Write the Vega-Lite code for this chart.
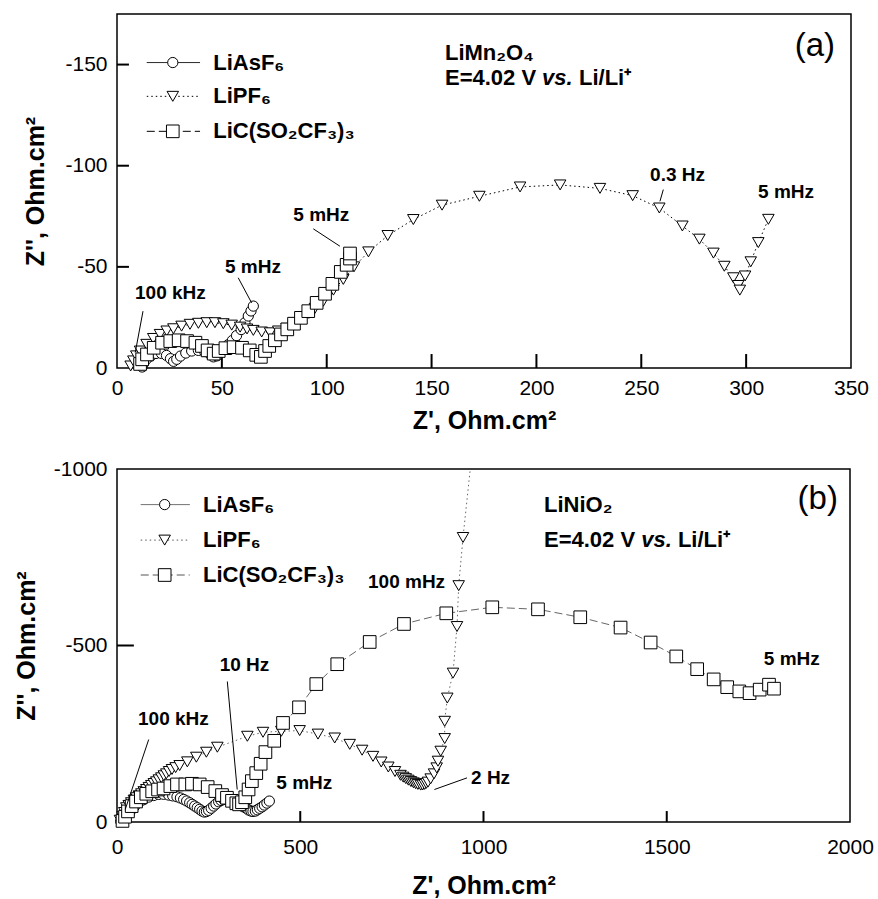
{
  "$schema": "https://vega.github.io/schema/vega-lite/v6.json",
  "background": "white",
  "padding": {"left": 13, "top": 13, "right": 20, "bottom": 2},
  "config": {
    "font": "Liberation Sans",
    "view": {"stroke": "black", "strokeWidth": 1.5},
    "axis": {"domain": false, "grid": false, "ticks": true, "tickSize": 12, "offset": -12, "tickWidth": 1.5, "tickColor": "black", "tickOpacity": 0,
      "labelFont": "Liberation Sans", "labelFontSize": 21, "labelColor": "black", "labelFlush": false, "labelOverlap": false,
      "titleFont": "Liberation Sans", "titleFontSize": 25, "titleFontWeight": "bold", "titleColor": "black"},
    "axisX": {"labelPadding": 9, "titlePadding": 10},
    "axisY": {"labelPadding": 10, "titlePadding": 16}
  },
  "datasets": {
    "a": [
      {"s":"LiAsF6","zr":12,"zi":-0.5},{"s":"LiAsF6","zr":12.8,"zi":-2.5},{"s":"LiAsF6","zr":14.2,"zi":-4.5},{"s":"LiAsF6","zr":16.2,"zi":-6},{"s":"LiAsF6","zr":18.6,"zi":-7.2},{"s":"LiAsF6","zr":21.2,"zi":-7.2},{"s":"LiAsF6","zr":23.6,"zi":-6.2},{"s":"LiAsF6","zr":25.5,"zi":-4.6},{"s":"LiAsF6","zr":27,"zi":-3.3},{"s":"LiAsF6","zr":28.5,"zi":-4.3},{"s":"LiAsF6","zr":30.3,"zi":-5.9},{"s":"LiAsF6","zr":32.8,"zi":-7.4},{"s":"LiAsF6","zr":35.6,"zi":-8.4},{"s":"LiAsF6","zr":38.8,"zi":-8.7},{"s":"LiAsF6","zr":41.8,"zi":-8.2},{"s":"LiAsF6","zr":44.2,"zi":-7},{"s":"LiAsF6","zr":46,"zi":-5.5},{"s":"LiAsF6","zr":47.6,"zi":-6},{"s":"LiAsF6","zr":49.2,"zi":-7.8},{"s":"LiAsF6","zr":51,"zi":-9.6},{"s":"LiAsF6","zr":53,"zi":-11.5},{"s":"LiAsF6","zr":55,"zi":-13.6},{"s":"LiAsF6","zr":57,"zi":-16},{"s":"LiAsF6","zr":59.2,"zi":-19},{"s":"LiAsF6","zr":61,"zi":-22.4},{"s":"LiAsF6","zr":62.6,"zi":-25.7},{"s":"LiAsF6","zr":63.9,"zi":-28.2},{"s":"LiAsF6","zr":65,"zi":-30.6},
      {"s":"LiPF6","zr":6.5,"zi":-1},{"s":"LiPF6","zr":7.8,"zi":-3.5},{"s":"LiPF6","zr":9.2,"zi":-6},{"s":"LiPF6","zr":11,"zi":-8.4},{"s":"LiPF6","zr":14.1,"zi":-11.7},{"s":"LiPF6","zr":17.3,"zi":-14.6},{"s":"LiPF6","zr":20.5,"zi":-16.6},{"s":"LiPF6","zr":23.7,"zi":-18.3},{"s":"LiPF6","zr":26.9,"zi":-19.4},{"s":"LiPF6","zr":30.8,"zi":-20.7},{"s":"LiPF6","zr":34.8,"zi":-21.6},{"s":"LiPF6","zr":38.8,"zi":-22.1},{"s":"LiPF6","zr":42.8,"zi":-22.4},{"s":"LiPF6","zr":46.7,"zi":-22.4},{"s":"LiPF6","zr":50.7,"zi":-21.9},{"s":"LiPF6","zr":54.7,"zi":-21.2},{"s":"LiPF6","zr":58.7,"zi":-20.2},{"s":"LiPF6","zr":62,"zi":-19.3},{"s":"LiPF6","zr":65,"zi":-18.6},{"s":"LiPF6","zr":69,"zi":-17.8},{"s":"LiPF6","zr":73,"zi":-17.4},{"s":"LiPF6","zr":76.9,"zi":-18.3},{"s":"LiPF6","zr":80.9,"zi":-19.6},{"s":"LiPF6","zr":84.9,"zi":-21.9},{"s":"LiPF6","zr":88.1,"zi":-24.8},{"s":"LiPF6","zr":91.5,"zi":-27},{"s":"LiPF6","zr":94.4,"zi":-29.5},{"s":"LiPF6","zr":98.4,"zi":-33},{"s":"LiPF6","zr":103.2,"zi":-38.5},{"s":"LiPF6","zr":107.9,"zi":-43.8},{"s":"LiPF6","zr":113,"zi":-50},{"s":"LiPF6","zr":119.9,"zi":-57.4},{"s":"LiPF6","zr":129.1,"zi":-65.5},{"s":"LiPF6","zr":141.3,"zi":-73.4},{"s":"LiPF6","zr":155,"zi":-80.5},{"s":"LiPF6","zr":172.8,"zi":-84.9},{"s":"LiPF6","zr":192.2,"zi":-89.5},{"s":"LiPF6","zr":211.3,"zi":-90.5},{"s":"LiPF6","zr":230.3,"zi":-88.8},{"s":"LiPF6","zr":245.9,"zi":-85.2},{"s":"LiPF6","zr":258.6,"zi":-79.1},{"s":"LiPF6","zr":269.6,"zi":-70.2},{"s":"LiPF6","zr":277.7,"zi":-63.7},{"s":"LiPF6","zr":284.4,"zi":-56.8},{"s":"LiPF6","zr":289.6,"zi":-50.3},{"s":"LiPF6","zr":293.9,"zi":-44.6},{"s":"LiPF6","zr":296.2,"zi":-40.8},{"s":"LiPF6","zr":297,"zi":-38.5},{"s":"LiPF6","zr":299.5,"zi":-45.5},{"s":"LiPF6","zr":302.2,"zi":-52.5},{"s":"LiPF6","zr":305.8,"zi":-62},{"s":"LiPF6","zr":310.6,"zi":-73.5},
      {"s":"LiC","zr":11,"zi":-2},{"s":"LiC","zr":12,"zi":-4.3},{"s":"LiC","zr":14.3,"zi":-6.7},{"s":"LiC","zr":17.5,"zi":-10},{"s":"LiC","zr":21.5,"zi":-12.5},{"s":"LiC","zr":25.4,"zi":-13.3},{"s":"LiC","zr":29.4,"zi":-13.7},{"s":"LiC","zr":33.4,"zi":-13.3},{"s":"LiC","zr":37.4,"zi":-12.5},{"s":"LiC","zr":40.5,"zi":-10.9},{"s":"LiC","zr":43.2,"zi":-8.7},{"s":"LiC","zr":46.1,"zi":-7.1},{"s":"LiC","zr":48.5,"zi":-8.4},{"s":"LiC","zr":51.7,"zi":-9.8},{"s":"LiC","zr":55.6,"zi":-10.3},{"s":"LiC","zr":59.6,"zi":-10},{"s":"LiC","zr":63.3,"zi":-8.7},{"s":"LiC","zr":66.4,"zi":-6.5},{"s":"LiC","zr":68.6,"zi":-5.5},{"s":"LiC","zr":70.6,"zi":-8.4},{"s":"LiC","zr":72.6,"zi":-10.9},{"s":"LiC","zr":75.3,"zi":-13.7},{"s":"LiC","zr":78.2,"zi":-16.6},{"s":"LiC","zr":81.2,"zi":-19.1},{"s":"LiC","zr":84.4,"zi":-21.9},{"s":"LiC","zr":87.7,"zi":-24.8},{"s":"LiC","zr":91.2,"zi":-28.1},{"s":"LiC","zr":95.2,"zi":-32.2},{"s":"LiC","zr":99.2,"zi":-36.7},{"s":"LiC","zr":102.7,"zi":-41.6},{"s":"LiC","zr":106.7,"zi":-47.5},{"s":"LiC","zr":109.5,"zi":-51},{"s":"LiC","zr":111.1,"zi":-54.1},{"s":"LiC","zr":111.1,"zi":-56.6}
    ],
    "b": [
      {"s":"LiAsF6","zr":10,"zi":-2},{"s":"LiAsF6","zr":13.6,"zi":-7.5},{"s":"LiAsF6","zr":20,"zi":-15},{"s":"LiAsF6","zr":28,"zi":-23},{"s":"LiAsF6","zr":36.4,"zi":-31},{"s":"LiAsF6","zr":47,"zi":-43},{"s":"LiAsF6","zr":59.1,"zi":-54.6},{"s":"LiAsF6","zr":72,"zi":-63},{"s":"LiAsF6","zr":86.4,"zi":-70.6},{"s":"LiAsF6","zr":100,"zi":-75},{"s":"LiAsF6","zr":113.7,"zi":-78.2},{"s":"LiAsF6","zr":127,"zi":-78.5},{"s":"LiAsF6","zr":141,"zi":-76.3},{"s":"LiAsF6","zr":152,"zi":-74},{"s":"LiAsF6","zr":163.7,"zi":-71.5},{"s":"LiAsF6","zr":173,"zi":-68},{"s":"LiAsF6","zr":181.9,"zi":-64},{"s":"LiAsF6","zr":190,"zi":-59.5},{"s":"LiAsF6","zr":198.3,"zi":-54.6},{"s":"LiAsF6","zr":205,"zi":-50},{"s":"LiAsF6","zr":212,"zi":-45.2},{"s":"LiAsF6","zr":219,"zi":-40.5},{"s":"LiAsF6","zr":225.6,"zi":-35.9},{"s":"LiAsF6","zr":232,"zi":-31},{"s":"LiAsF6","zr":238.3,"zi":-28.2},{"s":"LiAsF6","zr":244,"zi":-29.5},{"s":"LiAsF6","zr":250.1,"zi":-33},{"s":"LiAsF6","zr":257,"zi":-39},{"s":"LiAsF6","zr":263.8,"zi":-45.2},{"s":"LiAsF6","zr":270,"zi":-51},{"s":"LiAsF6","zr":277.4,"zi":-57.3},{"s":"LiAsF6","zr":284,"zi":-61},{"s":"LiAsF6","zr":291.1,"zi":-64},{"s":"LiAsF6","zr":299,"zi":-65},{"s":"LiAsF6","zr":307.5,"zi":-64},{"s":"LiAsF6","zr":315,"zi":-60.5},{"s":"LiAsF6","zr":322.8,"zi":-56.5},{"s":"LiAsF6","zr":330,"zi":-52},{"s":"LiAsF6","zr":338.3,"zi":-48},{"s":"LiAsF6","zr":345,"zi":-43},{"s":"LiAsF6","zr":352.8,"zi":-38.7},{"s":"LiAsF6","zr":359,"zi":-34},{"s":"LiAsF6","zr":365.6,"zi":-31},{"s":"LiAsF6","zr":371,"zi":-30},{"s":"LiAsF6","zr":377.4,"zi":-31},{"s":"LiAsF6","zr":383,"zi":-34.5},{"s":"LiAsF6","zr":389.3,"zi":-38.7},{"s":"LiAsF6","zr":396,"zi":-43},{"s":"LiAsF6","zr":402,"zi":-48},{"s":"LiAsF6","zr":409,"zi":-53.5},{"s":"LiAsF6","zr":415.6,"zi":-59.3},
      {"s":"LiPF6","zr":8,"zi":-5},{"s":"LiPF6","zr":15,"zi":-15},{"s":"LiPF6","zr":20,"zi":-27},{"s":"LiPF6","zr":25.5,"zi":-40.5},{"s":"LiPF6","zr":32,"zi":-47},{"s":"LiPF6","zr":39,"zi":-54.6},{"s":"LiPF6","zr":46,"zi":-62},{"s":"LiPF6","zr":52.7,"zi":-68.7},{"s":"LiPF6","zr":59.5,"zi":-74},{"s":"LiPF6","zr":66.4,"zi":-80},{"s":"LiPF6","zr":73,"zi":-86},{"s":"LiPF6","zr":80,"zi":-92.2},{"s":"LiPF6","zr":87,"zi":-98},{"s":"LiPF6","zr":93.7,"zi":-103.6},{"s":"LiPF6","zr":100.5,"zi":-109},{"s":"LiPF6","zr":107.3,"zi":-113.9},{"s":"LiPF6","zr":114,"zi":-119.5},{"s":"LiPF6","zr":121,"zi":-125.2},{"s":"LiPF6","zr":127.8,"zi":-131},{"s":"LiPF6","zr":134.6,"zi":-136.5},{"s":"LiPF6","zr":142,"zi":-143},{"s":"LiPF6","zr":150,"zi":-148.8},{"s":"LiPF6","zr":160,"zi":-154},{"s":"LiPF6","zr":171,"zi":-160},{"s":"LiPF6","zr":191.9,"zi":-170.4},{"s":"LiPF6","zr":216.5,"zi":-183.6},{"s":"LiPF6","zr":243.8,"zi":-197.7},{"s":"LiPF6","zr":273.8,"zi":-211.9},{"s":"LiPF6","zr":355.7,"zi":-242.9},{"s":"LiPF6","zr":398.4,"zi":-254.2},{"s":"LiPF6","zr":448.4,"zi":-257},{"s":"LiPF6","zr":498.4,"zi":-259},{"s":"LiPF6","zr":548.4,"zi":-249},{"s":"LiPF6","zr":594,"zi":-238},{"s":"LiPF6","zr":635,"zi":-220},{"s":"LiPF6","zr":668.8,"zi":-203.4},{"s":"LiPF6","zr":698.5,"zi":-186},{"s":"LiPF6","zr":721,"zi":-170},{"s":"LiPF6","zr":740.3,"zi":-155.8},{"s":"LiPF6","zr":758.5,"zi":-143},{"s":"LiPF6","zr":773.5,"zi":-132.3},{"s":"LiPF6","zr":781,"zi":-127},{"s":"LiPF6","zr":788,"zi":-122.8},{"s":"LiPF6","zr":795,"zi":-118.5},{"s":"LiPF6","zr":802,"zi":-114.5},{"s":"LiPF6","zr":809,"zi":-111},{"s":"LiPF6","zr":815,"zi":-108.5},{"s":"LiPF6","zr":821,"zi":-106.5},{"s":"LiPF6","zr":828.6,"zi":-104.5},{"s":"LiPF6","zr":834,"zi":-104.8},{"s":"LiPF6","zr":839.5,"zi":-106.5},{"s":"LiPF6","zr":844,"zi":-109.5},{"s":"LiPF6","zr":848.6,"zi":-113},{"s":"LiPF6","zr":855.9,"zi":-122.3},{"s":"LiPF6","zr":865,"zi":-136.4},{"s":"LiPF6","zr":872.3,"zi":-153.4},{"s":"LiPF6","zr":875.8,"zi":-172.3},{"s":"LiPF6","zr":883.2,"zi":-200.6},{"s":"LiPF6","zr":894.1,"zi":-236.4},{"s":"LiPF6","zr":894.1,"zi":-285.3},{"s":"LiPF6","zr":901.2,"zi":-351.1},{"s":"LiPF6","zr":916.8,"zi":-421.7},{"s":"LiPF6","zr":927.7,"zi":-553.7},{"s":"LiPF6","zr":932.3,"zi":-669.5},{"s":"LiPF6","zr":944.1,"zi":-806},{"s":"LiPF6","zr":970,"zi":-1060},
      {"s":"LiC","zr":15,"zi":-3},{"s":"LiC","zr":22,"zi":-15},{"s":"LiC","zr":30,"zi":-30},{"s":"LiC","zr":40,"zi":-45},{"s":"LiC","zr":52,"zi":-58},{"s":"LiC","zr":65,"zi":-70},{"s":"LiC","zr":80,"zi":-80},{"s":"LiC","zr":96,"zi":-87},{"s":"LiC","zr":112,"zi":-92},{"s":"LiC","zr":127,"zi":-95},{"s":"LiC","zr":145.6,"zi":-101.7},{"s":"LiC","zr":163.7,"zi":-106.4},{"s":"LiC","zr":186.4,"zi":-106.4},{"s":"LiC","zr":204.6,"zi":-108.3},{"s":"LiC","zr":225.6,"zi":-106.4},{"s":"LiC","zr":247.4,"zi":-98.9},{"s":"LiC","zr":268.3,"zi":-87.6},{"s":"LiC","zr":286.5,"zi":-76.3},{"s":"LiC","zr":300,"zi":-68.7},{"s":"LiC","zr":313.8,"zi":-60},{"s":"LiC","zr":325.6,"zi":-53},{"s":"LiC","zr":333,"zi":-50},{"s":"LiC","zr":341,"zi":-56},{"s":"LiC","zr":350,"zi":-70},{"s":"LiC","zr":359,"zi":-92.2},{"s":"LiC","zr":368,"zi":-115.8},{"s":"LiC","zr":380,"zi":-138.5},{"s":"LiC","zr":392,"zi":-165},{"s":"LiC","zr":405,"zi":-198},{"s":"LiC","zr":429,"zi":-230},{"s":"LiC","zr":453,"zi":-280.6},{"s":"LiC","zr":496.6,"zi":-324.9},{"s":"LiC","zr":543.8,"zi":-390.7},{"s":"LiC","zr":601,"zi":-447},{"s":"LiC","zr":689.5,"zi":-510},{"s":"LiC","zr":783,"zi":-561},{"s":"LiC","zr":898.5,"zi":-591.2},{"s":"LiC","zr":1024,"zi":-608.2},{"s":"LiC","zr":1148.7,"zi":-602.5},{"s":"LiC","zr":1264,"zi":-580},{"s":"LiC","zr":1374,"zi":-550.8},{"s":"LiC","zr":1456,"zi":-508.5},{"s":"LiC","zr":1526,"zi":-469},{"s":"LiC","zr":1583,"zi":-433},{"s":"LiC","zr":1628,"zi":-404},{"s":"LiC","zr":1665,"zi":-382},{"s":"LiC","zr":1698,"zi":-370},{"s":"LiC","zr":1726,"zi":-365},{"s":"LiC","zr":1753.6,"zi":-375},{"s":"LiC","zr":1779,"zi":-389},{"s":"LiC","zr":1792.6,"zi":-377.7}
    ],
    "tkA": [
      {"zr":50,"zi":0,"zr2":50,"zi2":-6.9},{"zr":100,"zi":0,"zr2":100,"zi2":-6.9},{"zr":150,"zi":0,"zr2":150,"zi2":-6.9},{"zr":200,"zi":0,"zr2":200,"zi2":-6.9},{"zr":250,"zi":0,"zr2":250,"zi2":-6.9},{"zr":300,"zi":0,"zr2":300,"zi2":-6.9},
      {"zr":0,"zi":-50,"zr2":5.7,"zi2":-50},{"zr":0,"zi":-100,"zr2":5.7,"zi2":-100},{"zr":0,"zi":-150,"zr2":5.7,"zi2":-150}
    ],
    "tkB": [
      {"zr":500,"zi":0,"zr2":500,"zi2":-31},{"zr":1000,"zi":0,"zr2":1000,"zi2":-31},{"zr":1500,"zi":0,"zr2":1500,"zi2":-31},
      {"zr":0,"zi":-500,"zr2":46,"zi2":-500}
    ],
    "legA": [
      {"s":"LiAsF6","zr":14.2,"zr2":39.6,"zs":26.6,"zt":45.9,"zi":-151,"t":"LiAsF₆"},
      {"s":"LiPF6","zr":14.2,"zr2":39.6,"zs":26.6,"zt":45.9,"zi":-134.3,"t":"LiPF₆"},
      {"s":"LiC","zr":14.2,"zr2":39.6,"zs":26.6,"zt":45.9,"zi":-117,"t":"LiC(SO₂CF₃)₃"}
    ],
    "legB": [
      {"s":"LiAsF6","zr":64.7,"zr2":198.4,"zs":130.1,"zt":234.7,"zi":-899.2,"t":"LiAsF₆"},
      {"s":"LiPF6","zr":64.7,"zr2":198.4,"zs":130.1,"zt":234.7,"zi":-798.6,"t":"LiPF₆"},
      {"s":"LiC","zr":64.7,"zr2":198.4,"zs":130.1,"zt":234.7,"zi":-699.7,"t":"LiC(SO₂CF₃)₃"}
    ],
    "ldA": [
      {"zr":12.4,"zi":-28.1,"zr2":8.7,"zi2":-7.6},
      {"zr":57.8,"zi":-44.6,"zr2":64.2,"zi2":-32.2},
      {"zr":93.6,"zi":-68.8,"zr2":106.3,"zi2":-60.2},
      {"zr":260.5,"zi":-88.2,"zr2":258.9,"zi2":-82.4}
    ],
    "ldB": [
      {"zr":86.5,"zi":-233.6,"zr2":22.6,"zi2":-35.9},
      {"zr":301,"zi":-398,"zr2":328,"zi2":-92},
      {"zr":866,"zi":-92,"zr2":955,"zi2":-125}
    ],
    "anA": [
      {"zr":8.6,"zi":-33.9,"t":"100 kHz"},
      {"zr":51.5,"zi":-47,"t":"5 mHz"},
      {"zr":84.1,"zi":-72.6,"t":"5 mHz"},
      {"zr":254.2,"zi":-92.3,"t":"0.3 Hz"},
      {"zr":305.7,"zi":-84.1,"t":"5 mHz"}
    ],
    "anB": [
      {"zr":57.3,"zi":-276,"t":"100 kHz"},
      {"zr":280.2,"zi":-426.6,"t":"10 Hz"},
      {"zr":434.7,"zi":-92.4,"t":"5 mHz"},
      {"zr":684.9,"zi":-661.9,"t":"100 mHz"},
      {"zr":966,"zi":-106.5,"t":"2 Hz"},
      {"zr":1765,"zi":-445.5,"t":"5 mHz"}
    ],
    "hdA": [
      {"zr":156.4,"zi":-152.5,"t":"LiMn₂O₄"},
      {"zr":156.4,"zi":-140,"t":"E=4.02 V"},
      {"zr":220.3,"zi":-140,"t":"Li/Li⁺"}
    ],
    "hdB": [
      {"zr":1165,"zi":-878.5,"t":"LiNiO₂"},
      {"zr":1165,"zi":-779.7,"t":"E=4.02 V"},
      {"zr":1530.4,"zi":-779.7,"t":"Li/Li⁺"}
    ],
    "itA": [{"zr":202.7,"zi":-140,"t":"vs."}],
    "itB": [{"zr":1430.3,"zi":-779.7,"t":"vs."}],
    "pA": [{"zr":342.4,"zi":-154,"t":"(a)"}],
    "pB": [{"zr":1967,"zi":-887,"t":"(b)"}]
  },
  "spacing": 101,
  "bounds": "flush",
  "vconcat": [
    {
      "width": 734, "height": 354,
      "layer": [
        {"data": {"name": "a"}, "mark": {"type": "line", "color": "black", "strokeWidth": 1},
         "encoding": {
           "x": {"field": "zr", "type": "quantitative", "scale": {"domain": [0, 350], "nice": false, "zero": false},
                 "axis": {"title": "Z', Ohm.cm²", "values": [0, 50, 100, 150, 200, 250, 300, 350], "labelExpr": "'' + datum.value"}},
           "y": {"field": "zi", "type": "quantitative", "scale": {"domain": [0, -175], "nice": false, "zero": false},
                 "axis": {"title": "Z'', Ohm.cm²", "values": [0, -50, -100, -150], "labelExpr": "datum.value < 0 ? '-' + (-datum.value) : '0'"}},
           "detail": {"field": "s"},
           "strokeDash": {"field": "s", "type": "nominal", "scale": {"domain": ["LiAsF6", "LiPF6", "LiC"], "range": [[1, 0], [1.5, 3], [8, 4]]}, "legend": null},
           "order": {"value": null}
         }},
        {"data": {"name": "tkA"}, "mark": {"type": "rule", "color": "black", "strokeWidth": 2},
         "encoding": {"x": {"field": "zr", "type": "quantitative"}, "y": {"field": "zi", "type": "quantitative"}, "x2": {"field": "zr2"}, "y2": {"field": "zi2"}}},
        {"data": {"name": "a"}, "mark": {"type": "point", "filled": true, "fill": "white", "stroke": "black", "strokeWidth": 1, "opacity": 1},
         "encoding": {
           "x": {"field": "zr", "type": "quantitative", "scale": {"domain": [0, 350], "nice": false, "zero": false}},
           "y": {"field": "zi", "type": "quantitative", "scale": {"domain": [0, -175], "nice": false, "zero": false}},
           "shape": {"field": "s", "type": "nominal", "scale": {"domain": ["LiAsF6", "LiPF6", "LiC"], "range": ["circle", "triangle-down", "square"]}, "legend": null},
           "size": {"field": "s", "type": "nominal", "scale": {"domain": ["LiAsF6", "LiPF6", "LiC"], "range": [105, 160, 75]}, "legend": null}
         }},
        {"data": {"name": "legA"}, "mark": {"type": "rule", "color": "black", "strokeWidth": 1},
         "encoding": {
           "x": {"field": "zr", "type": "quantitative"}, "x2": {"field": "zr2"},
           "y": {"field": "zi", "type": "quantitative"},
           "strokeDash": {"field": "s", "type": "nominal", "scale": {"domain": ["LiAsF6", "LiPF6", "LiC"], "range": [[1, 0], [1.5, 3], [8, 4]]}, "legend": null}
         }},
        {"data": {"name": "legA"}, "mark": {"type": "point", "filled": true, "fill": "white", "stroke": "black", "strokeWidth": 1, "opacity": 1},
         "encoding": {
           "x": {"field": "zs", "type": "quantitative"},
           "y": {"field": "zi", "type": "quantitative"},
           "shape": {"field": "s", "type": "nominal", "scale": {"domain": ["LiAsF6", "LiPF6", "LiC"], "range": ["circle", "triangle-down", "square"]}, "legend": null},
           "size": {"field": "s", "type": "nominal", "scale": {"domain": ["LiAsF6", "LiPF6", "LiC"], "range": [105, 160, 75]}, "legend": null}
         }},
        {"data": {"name": "legA"}, "mark": {"type": "text", "align": "left", "baseline": "middle", "font": "Liberation Sans", "fontSize": 22, "fontWeight": "bold", "color": "black"},
         "encoding": {"x": {"field": "zt", "type": "quantitative"}, "y": {"field": "zi", "type": "quantitative"}, "text": {"field": "t"}}},
        {"data": {"name": "ldA"}, "mark": {"type": "rule", "color": "black", "strokeWidth": 1},
         "encoding": {"x": {"field": "zr", "type": "quantitative"}, "y": {"field": "zi", "type": "quantitative"}, "x2": {"field": "zr2"}, "y2": {"field": "zi2"}}},
        {"data": {"name": "anA"}, "mark": {"type": "text", "align": "left", "baseline": "alphabetic", "font": "Liberation Sans", "fontSize": 19, "fontWeight": "bold", "color": "black"},
         "encoding": {"x": {"field": "zr", "type": "quantitative"}, "y": {"field": "zi", "type": "quantitative"}, "text": {"field": "t"}}},
        {"data": {"name": "hdA"}, "mark": {"type": "text", "align": "left", "baseline": "alphabetic", "font": "Liberation Sans", "fontSize": 22, "fontWeight": "bold", "color": "black"},
         "encoding": {"x": {"field": "zr", "type": "quantitative"}, "y": {"field": "zi", "type": "quantitative"}, "text": {"field": "t"}}},
        {"data": {"name": "itA"}, "mark": {"type": "text", "align": "left", "baseline": "alphabetic", "font": "Liberation Sans", "fontSize": 22, "fontWeight": "bold", "fontStyle": "italic", "color": "black"},
         "encoding": {"x": {"field": "zr", "type": "quantitative"}, "y": {"field": "zi", "type": "quantitative"}, "text": {"field": "t"}}},
        {"data": {"name": "pA"}, "mark": {"type": "text", "align": "right", "baseline": "alphabetic", "font": "Liberation Sans", "fontSize": 33, "color": "black"},
         "encoding": {"x": {"field": "zr", "type": "quantitative"}, "y": {"field": "zi", "type": "quantitative"}, "text": {"field": "t"}}}
      ]
    },
    {
      "width": 733, "height": 353,
      "layer": [
        {"data": {"name": "b"}, "mark": {"type": "line", "color": "#555555", "strokeWidth": 0.9, "clip": true},
         "encoding": {
           "x": {"field": "zr", "type": "quantitative", "scale": {"domain": [0, 2000], "nice": false, "zero": false},
                 "axis": {"title": "Z', Ohm.cm²", "values": [0, 500, 1000, 1500, 2000], "labelExpr": "'' + datum.value", "labelPadding": 14, "titlePadding": 16}},
           "y": {"field": "zi", "type": "quantitative", "scale": {"domain": [0, -1000], "nice": false, "zero": false},
                 "axis": {"title": "Z'', Ohm.cm²", "values": [0, -500, -1000], "labelExpr": "datum.value < 0 ? '-' + (-datum.value) : '0'", "titlePadding": 14}},
           "detail": {"field": "s"},
           "strokeDash": {"field": "s", "type": "nominal", "scale": {"domain": ["LiAsF6", "LiPF6", "LiC"], "range": [[1, 0], [10, 3, 3, 3], [8, 4]]}, "legend": null},
           "order": {"value": null}
         }},
        {"data": {"name": "tkB"}, "mark": {"type": "rule", "color": "black", "strokeWidth": 2},
         "encoding": {"x": {"field": "zr", "type": "quantitative"}, "y": {"field": "zi", "type": "quantitative"}, "x2": {"field": "zr2"}, "y2": {"field": "zi2"}}},
        {"data": {"name": "b"}, "transform": [{"filter": "datum.zi >= -1000"}], "mark": {"type": "point", "filled": true, "fill": "white", "stroke": "black", "strokeWidth": 1, "opacity": 1},
         "encoding": {
           "x": {"field": "zr", "type": "quantitative", "scale": {"domain": [0, 2000], "nice": false, "zero": false}},
           "y": {"field": "zi", "type": "quantitative", "scale": {"domain": [0, -1000], "nice": false, "zero": false}},
           "shape": {"field": "s", "type": "nominal", "scale": {"domain": ["LiAsF6", "LiPF6", "LiC"], "range": ["circle", "triangle-down", "square"]}, "legend": null},
           "size": {"field": "s", "type": "nominal", "scale": {"domain": ["LiAsF6", "LiPF6", "LiC"], "range": [115, 130, 72]}, "legend": null}
         }},
        {"data": {"name": "legB"}, "mark": {"type": "rule", "color": "#555555", "strokeWidth": 1},
         "encoding": {
           "x": {"field": "zr", "type": "quantitative"}, "x2": {"field": "zr2"},
           "y": {"field": "zi", "type": "quantitative"},
           "strokeDash": {"field": "s", "type": "nominal", "scale": {"domain": ["LiAsF6", "LiPF6", "LiC"], "range": [[1, 0], [10, 3, 3, 3], [8, 4]]}, "legend": null}
         }},
        {"data": {"name": "legB"}, "mark": {"type": "point", "filled": true, "fill": "white", "stroke": "black", "strokeWidth": 1, "opacity": 1},
         "encoding": {
           "x": {"field": "zs", "type": "quantitative"},
           "y": {"field": "zi", "type": "quantitative"},
           "shape": {"field": "s", "type": "nominal", "scale": {"domain": ["LiAsF6", "LiPF6", "LiC"], "range": ["circle", "triangle-down", "square"]}, "legend": null},
           "size": {"field": "s", "type": "nominal", "scale": {"domain": ["LiAsF6", "LiPF6", "LiC"], "range": [115, 130, 72]}, "legend": null}
         }},
        {"data": {"name": "legB"}, "mark": {"type": "text", "align": "left", "baseline": "middle", "font": "Liberation Sans", "fontSize": 22, "fontWeight": "bold", "color": "black"},
         "encoding": {"x": {"field": "zt", "type": "quantitative"}, "y": {"field": "zi", "type": "quantitative"}, "text": {"field": "t"}}},
        {"data": {"name": "ldB"}, "mark": {"type": "rule", "color": "black", "strokeWidth": 1},
         "encoding": {"x": {"field": "zr", "type": "quantitative"}, "y": {"field": "zi", "type": "quantitative"}, "x2": {"field": "zr2"}, "y2": {"field": "zi2"}}},
        {"data": {"name": "anB"}, "mark": {"type": "text", "align": "left", "baseline": "alphabetic", "font": "Liberation Sans", "fontSize": 19, "fontWeight": "bold", "color": "black"},
         "encoding": {"x": {"field": "zr", "type": "quantitative"}, "y": {"field": "zi", "type": "quantitative"}, "text": {"field": "t"}}},
        {"data": {"name": "hdB"}, "mark": {"type": "text", "align": "left", "baseline": "alphabetic", "font": "Liberation Sans", "fontSize": 22, "fontWeight": "bold", "color": "black"},
         "encoding": {"x": {"field": "zr", "type": "quantitative"}, "y": {"field": "zi", "type": "quantitative"}, "text": {"field": "t"}}},
        {"data": {"name": "itB"}, "mark": {"type": "text", "align": "left", "baseline": "alphabetic", "font": "Liberation Sans", "fontSize": 22, "fontWeight": "bold", "fontStyle": "italic", "color": "black"},
         "encoding": {"x": {"field": "zr", "type": "quantitative"}, "y": {"field": "zi", "type": "quantitative"}, "text": {"field": "t"}}},
        {"data": {"name": "pB"}, "mark": {"type": "text", "align": "right", "baseline": "alphabetic", "font": "Liberation Sans", "fontSize": 33, "color": "black"},
         "encoding": {"x": {"field": "zr", "type": "quantitative"}, "y": {"field": "zi", "type": "quantitative"}, "text": {"field": "t"}}}
      ]
    }
  ]
}
